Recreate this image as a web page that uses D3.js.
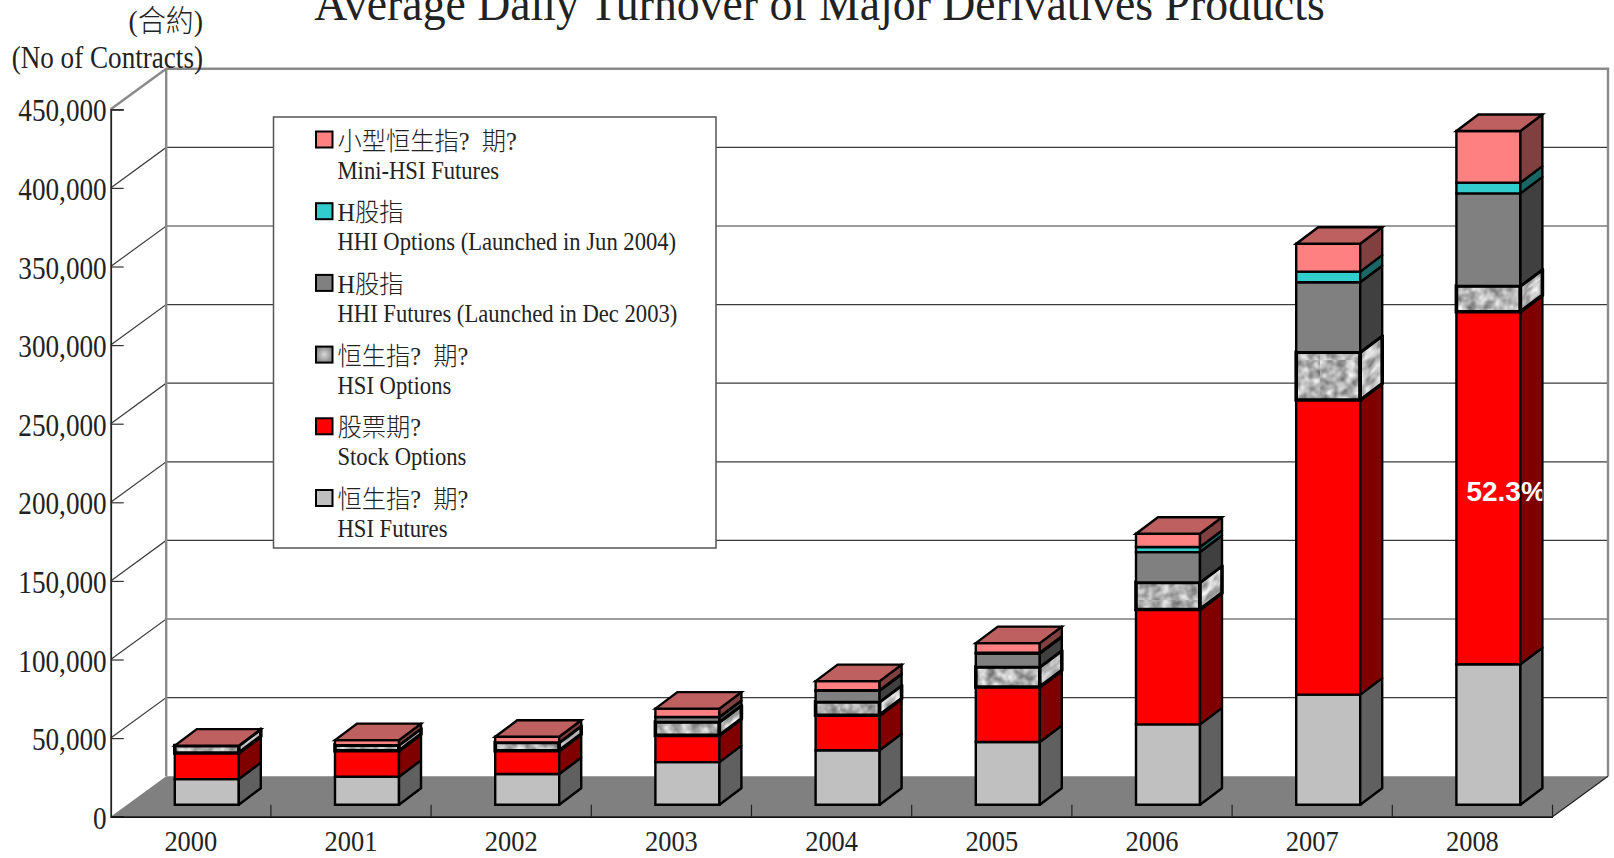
<!DOCTYPE html>
<html>
<head>
<meta charset="utf-8">
<script src="https://cdn.jsdelivr.net/npm/d3@7"></script>
<style>
  html, body { margin: 0; padding: 0; background: #fff; overflow: hidden; }
  text { font-family: "Liberation Serif", "Noto Sans CJK TC", serif; fill: #222; white-space: pre; }
</style>
</head>
<body>
<div id="chart"></div>
<script>
const years = ["2000", "2001", "2002", "2003", "2004", "2005", "2006", "2007", "2008"];
const hsiFutures = [16300, 17800, 19500, 27100, 34600, 39900, 51100, 70000, 89300];
const stockOptions = [16600, 16500, 14800, 17000, 22300, 35000, 73100, 187400, 224300];
const hsiOptions = [4700, 3600, 5300, 8500, 8500, 12700, 17200, 30400, 16400];
const hhiFutures = [0, 0, 0, 3200, 7000, 8500, 19300, 44500, 58900];
const hhiOptions = [0, 0, 0, 0, 500, 600, 3200, 6800, 6800];
const miniHsi = [0, 3200, 3600, 5300, 5700, 6100, 8500, 17700, 32900];
const yTicks = [0, 50000, 100000, 150000, 200000, 250000, 300000, 350000, 400000, 450000];

const seriesNames = ["hsiFutures", "stockOptions", "hsiOptions", "hhiFutures", "hhiOptions", "miniHsi"];
const seriesValues = { hsiFutures, stockOptions, hsiOptions, hhiFutures, hhiOptions, miniHsi };
const frontColors = ["#c0c0c0", "#ff0000", "url(#marbleFront)", "#808080", "#33cccc", "#ff8080"];
const sideColors = ["#606060", "#800000", "url(#marbleSide)", "#404040", "#1a6666", "#804040"];

// legend runs top to bottom, so reverse of the stack
const legendZh = ["小型恒生指?  期?", "H股指", "H股指", "恒生指?  期?", "股票期?", "恒生指?  期?"];
const legendEn = ["Mini-HSI Futures", "HHI Options (Launched in Jun 2004)", "HHI Futures (Launched in Dec 2003)", "HSI Options", "Stock Options", "HSI Futures"];
const legendKeys = ["miniHsi", "hhiOptions", "hhiFutures", "hsiOptions", "stockOptions", "hsiFutures"];

const width = 1614, height = 858;
const x0 = 110.7, x1 = 1552.5, y0 = 816.7, y450 = 109.3;
const wallDx = 55.5, wallDy = -40.5;
const barW = 64, barDx = 22, barDy = -16.5, barShiftX = 16, barShiftY = -12;

const svg = d3.select("#chart").append("svg")
  .attr("width", width)
  .attr("height", height);

const defs = svg.append("defs");

// mottled fill for the HSI options block, a filtered rect tiled as a pattern
function marble(id, seed, base, gain, skew) {
  const f = defs.append("filter").attr("id", id + "Noise")
    .attr("color-interpolation-filters", "sRGB")
    .attr("x", 0).attr("y", 0).attr("width", 1).attr("height", 1);
  f.append("feTurbulence")
    .attr("type", "fractalNoise").attr("baseFrequency", 0.11)
    .attr("numOctaves", 2).attr("seed", seed);
  const row = gain + " 0 0 0 " + base;
  f.append("feColorMatrix").attr("values", row + " " + row + " " + row + " 0 0 0 0 1");
  const p = defs.append("pattern").attr("id", id)
    .attr("patternUnits", "userSpaceOnUse")
    .attr("width", 120).attr("height", 120)
    .attr("patternTransform", "skewY(" + skew + ")");
  p.append("rect").attr("width", 120).attr("height", 120)
    .attr("filter", "url(#" + id + "Noise)");
}
marble("marbleFront", 4, 0.3, 0.8, 0);
marble("marbleSide", 9, 0.36, 0.8, -37);

const swatchGrad = defs.append("radialGradient").attr("id", "swatchGrad");
swatchGrad.append("stop").attr("offset", "0%").attr("stop-color", "#d8d8d8");
swatchGrad.append("stop").attr("offset", "100%").attr("stop-color", "#8c8c8c");

const xScale = d3.scaleBand().domain(years).range([x0, x1]);
const yScale = d3.scaleLinear().domain([0, 450000]).range([y0, y450]);

// squeeze text sideways, the reference font is narrow
function squeeze(sel, k) {
  sel.each(function () {
    const len = this.getComputedTextLength();
    d3.select(this).attr("textLength", len * k).attr("lengthAdjust", "spacingAndGlyphs");
  });
}

// walls and floor
const wall = svg.append("g");
wall.append("polygon")
  .attr("points", [[x0, y0], [x1, y0], [x1 + wallDx, y0 + wallDy], [x0 + wallDx, y0 + wallDy]].join(" "))
  .attr("fill", "#808080");

const gridTicks = yTicks.slice(1, -1);
wall.selectAll(".grid").data(gridTicks).enter().append("path")
  .attr("class", "grid")
  .attr("fill", "none")
  .attr("stroke", "#3c3c3c")
  .attr("stroke-width", 1.2)
  .attr("d", d => {
    const y = yScale(d);
    return "M" + x0 + "," + y + "L" + (x0 + wallDx) + "," + (y + wallDy) + "H" + (x1 + wallDx);
  });

wall.append("path")
  .attr("fill", "none")
  .attr("stroke", "#8a8a8a")
  .attr("stroke-width", 2.4)
  .attr("d", "M" + x0 + "," + y450 + "L" + (x0 + wallDx) + "," + (y450 + wallDy) + "H" + (x1 + wallDx) +
    "V" + (y0 + wallDy) + "M" + (x0 + wallDx) + "," + (y450 + wallDy) + "V" + (y0 + wallDy));

wall.append("path")
  .attr("fill", "none")
  .attr("stroke", "#222")
  .attr("stroke-width", 1.2)
  .attr("d", "M" + x1 + "," + y0 + "L" + (x1 + wallDx) + "," + (y0 + wallDy));

// axes
const yAxis = svg.append("g")
  .attr("transform", "translate(" + x0 + ",0)")
  .call(d3.axisLeft(yScale).tickValues(yTicks).tickSize(-13).tickPadding(4)
    .tickFormat(d3.format(",")));
yAxis.selectAll("line").attr("stroke", "#333").attr("stroke-width", 1.2);
yAxis.select(".domain").attr("stroke", "#222").attr("stroke-width", 1.8);
yAxis.selectAll("text")
  .attr("font-size", 32)
  .attr("dy", "0.36em")
  .call(squeeze, 0.85);

const xAxis = svg.append("g")
  .attr("transform", "translate(0," + y0 + ")")
  .call(d3.axisBottom(xScale).tickSize(0).tickPadding(13.4));
xAxis.select(".domain").attr("stroke", "#111").attr("stroke-width", 1.8);
xAxis.selectAll("text").attr("font-size", 30).attr("dy", "0.71em").call(squeeze, 0.88);
svg.append("g").selectAll("line").data(years).enter().append("line")
  .attr("x1", d => xScale(d) + xScale.bandwidth())
  .attr("x2", d => xScale(d) + xScale.bandwidth())
  .attr("y1", y0).attr("y2", y0 + barShiftY)
  .attr("stroke", "#222").attr("stroke-width", 1.2);

// stacked 3d bars
const stackRows = years.map((y, i) => {
  const row = { year: y };
  seriesNames.forEach(k => { row[k] = seriesValues[k][i]; });
  return row;
});
const stacked = d3.stack().keys(seriesNames)(stackRows);

const barX = d => xScale(d) + (xScale.bandwidth() - barW) / 2 + barShiftX;
const barY = v => yScale(v) + barShiftY;

const bars = svg.append("g").selectAll("g").data(years).enter().append("g");

bars.each(function (year, i) {
  const g = d3.select(this);
  const left = barX(year), right = left + barW;
  stacked.forEach((s, si) => {
    const lo = s[i][0], hi = s[i][1];
    if (hi === lo) return;
    const yLo = barY(lo), yHi = barY(hi);
    const sw = seriesNames[si] === "hsiOptions" ? 3.6 : 2.4;
    g.append("polygon")
      .attr("points", [[left, yHi], [right, yHi], [right, yLo], [left, yLo]].join(" "))
      .attr("fill", frontColors[si])
      .attr("stroke", "#000").attr("stroke-width", sw);
    g.append("polygon")
      .attr("points", [[right, yHi], [right + barDx, yHi + barDy], [right + barDx, yLo + barDy], [right, yLo]].join(" "))
      .attr("fill", sideColors[si])
      .attr("stroke", "#000").attr("stroke-width", sw).attr("stroke-linejoin", "round");
  });
  // lid
  const top = barY(d3.sum(seriesNames, k => seriesValues[k][i]));
  g.append("polygon")
    .attr("points", [[left, top], [left + barDx, top + barDy], [right + barDx, top + barDy], [right, top]].join(" "))
    .attr("fill", "#bf6060")
    .attr("stroke", "#000").attr("stroke-width", 2.4);
});

// share label on the 2008 stock options block
const labelClip = defs.append("clipPath").attr("id", "labelClip");
labelClip.append("rect")
  .attr("x", barX("2008")).attr("y", 0)
  .attr("width", barW + barDx).attr("height", height);
svg.append("g").attr("clip-path", "url(#labelClip)").append("text")
  .attr("x", barX("2008") + 10)
  .attr("y", 501)
  .attr("font-size", 28)
  .attr("font-weight", "bold")
  .style("font-family", "'Liberation Sans', sans-serif")
  .style("fill", "#fff")
  .text("52.3%");

// legend
const legend = svg.append("g");
legend.append("rect")
  .attr("x", 273.5).attr("y", 117).attr("width", 442.5).attr("height", 431)
  .attr("fill", "#fff").attr("stroke", "#555").attr("stroke-width", 1.5);

const swatchFill = { miniHsi: "#ff8080", hhiOptions: "#33cccc", hhiFutures: "#808080", hsiOptions: "url(#swatchGrad)", stockOptions: "#ff0000", hsiFutures: "#c0c0c0" };
const legendItems = legend.selectAll("g").data(legendKeys).enter().append("g")
  .attr("transform", (d, i) => "translate(0," + (i * 71.7) + ")");
legendItems.append("rect")
  .attr("x", 316).attr("y", 131.5).attr("width", 16.5).attr("height", 16)
  .attr("fill", d => swatchFill[d]).attr("stroke", "#000").attr("stroke-width", 2);
legendItems.append("text")
  .attr("x", 337.5).attr("y", 149.5)
  .attr("font-size", 25)
  .style("font-weight", 300)
  .text((d, i) => legendZh[i])
  .call(squeeze, 0.97);
legendItems.append("text")
  .attr("x", 337.5).attr("y", 178.5)
  .attr("font-size", 26)
  .text((d, i) => legendEn[i])
  .call(squeeze, 0.87);

// titles
svg.append("text").attr("x", 819.5).attr("y", 19.5)
  .attr("text-anchor", "middle").attr("font-size", 48)
  .text("Average Daily Turnover of Major Derivatives Products")
  .call(squeeze, 0.953);
svg.append("text").attr("x", 203).attr("y", 31)
  .attr("text-anchor", "end").attr("font-size", 30)
  .style("font-weight", 300)
  .text("(合約)").call(squeeze, 0.93);
svg.append("text").attr("x", 203).attr("y", 68)
  .attr("text-anchor", "end").attr("font-size", 31)
  .text("(No of Contracts)").call(squeeze, 0.875);
</script>
</body>
</html>
